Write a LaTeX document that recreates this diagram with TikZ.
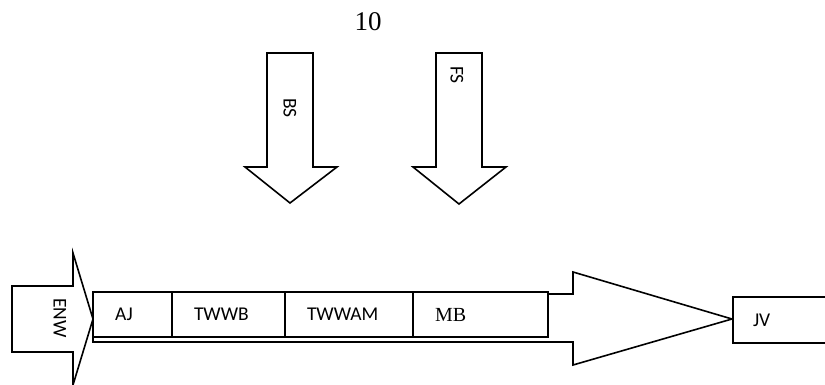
\documentclass[tikz,border=0pt]{standalone}
\usepackage{fontspec}
\setmainfont{Liberation Serif}
\newfontfamily\calib{Carlito}
\begin{document}
\begin{tikzpicture}[x=1pt,y=-1pt,
  blockarrow/.style={draw=black,line width=1.6pt,fill=white,line join=miter},
  lbl/.style={font=\calib\fontsize{19.5}{22}\selectfont,inner sep=0pt},
  cell/.style={draw=black,line width=1.6pt,fill=white,minimum height=45pt,
    inner xsep=22pt,inner ysep=0pt,outer sep=0pt,align=left,anchor=west,
    font=\calib\fontsize{19.5}{22}\selectfont}]
\useasboundingbox (0,0) rectangle (825,385);
\clip (0,0) rectangle (825,385);
% page number
\node[font=\fontsize{27}{30}\selectfont,inner sep=0pt] (num) at (368,22) {10};
% BS arrow
\draw[blockarrow] (267,53) -- (313,53) -- (313,167) -- (337,167) -- (290,203) -- (245,167) -- (267,167) -- cycle;
\node[lbl,rotate=-90] (bs) at (290,108) {BS};
% FS arrow
\draw[blockarrow] (436,53) -- (482,53) -- (482,167) -- (506,167) -- (459,204) -- (413,167) -- (436,167) -- cycle;
\node[lbl,rotate=-90] (fs) at (457,75) {FS};
% ENW arrow
\draw[blockarrow] (12,286) -- (73,286) -- (73,253) -- (93,319) -- (73,385) -- (73,352) -- (12,352) -- cycle;
\node[lbl,rotate=-90] (enw) at (60,318) {ENW};
% big arrow
\draw[blockarrow] (93,294) -- (573,294) -- (573,272) -- (732,319) -- (573,365) -- (573,342) -- (93,342) -- cycle;
% cells
\node[cell,text width=35pt] (aj) at (93,314.5) {AJ};
\node[cell,text width=69pt] (twwb) at (aj.east) {TWWB};
\node[cell,text width=84pt] (twwam) at (twwb.east) {TWWAM};
\node[cell,text width=91pt,font=\fontsize{20}{22}\selectfont] (mb) at (twwam.east) {MB};
% JV box
\node[cell,text width=120pt,minimum height=46pt,inner xsep=20pt] (jv) at (733,320) {JV};
\end{tikzpicture}
\end{document}
